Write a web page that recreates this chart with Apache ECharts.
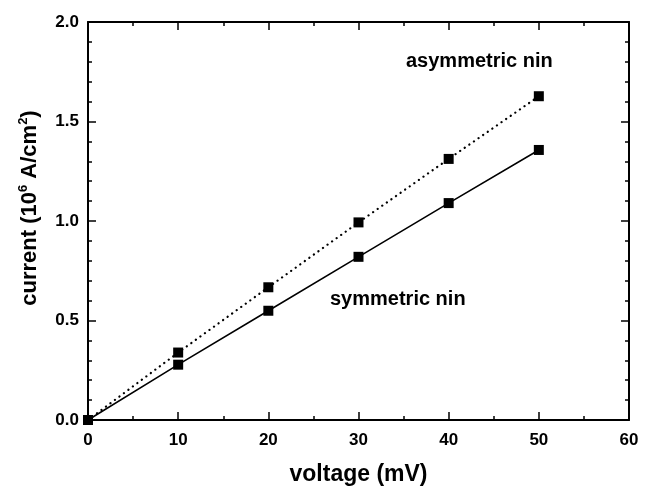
<!DOCTYPE html>
<html>
<head>
<meta charset="utf-8">
<script src="https://cdn.jsdelivr.net/npm/echarts@6/dist/echarts.min.js"></script>
<style>
  html, body { margin: 0; padding: 0; background: #fff; }
  #chart { width: 647px; height: 486px; }
</style>
</head>
<body>
<div id="chart"></div>
<script>
// voltage in mV, current in 10^6 A/cm^2
const voltage = [0, 10, 20, 30, 40, 50];
const symmetricNin = [0, 0.278, 0.549, 0.820, 1.090, 1.357];
const asymmetricNin = [0, 0.339, 0.667, 0.993, 1.312, 1.627];

const font = "'Liberation Sans', Arial, sans-serif";

function pairs(ys) {
  return voltage.map((v, i) => [v, ys[i]]);
}

const frameLine = { show: true, onZero: false, lineStyle: { color: "#000", width: 2 } };
const majorTick = { inside: true, length: 8, lineStyle: { width: 1.5, color: "#000" } };
const minor = n => ({ show: true, splitNumber: n, length: 4, lineStyle: { width: 1.5, color: "#000" } });

const chart = echarts.init(document.getElementById("chart"));
chart.setOption({
  animation: false,
  backgroundColor: "#fff",
  grid: { left: 88, right: 18, top: 22, bottom: 66, containLabel: false, outerBoundsMode: "none" },
  xAxis: [
    {
      type: "value",
      min: 0, max: 60, interval: 10,
      name: "voltage (mV)",
      nameLocation: "middle",
      nameGap: 43,
      nameTextStyle: { fontFamily: font, fontWeight: "bold", fontSize: 23, color: "#000" },
      axisLine: frameLine,
      axisTick: majorTick,
      minorTick: minor(2),
      splitLine: { show: false },
      axisLabel: { fontFamily: font, fontWeight: "bold", fontSize: 17, color: "#000", margin: 12 }
    },
    {
      type: "value",
      position: "top",
      min: 0, max: 60, interval: 10,
      axisLine: frameLine,
      axisTick: majorTick,
      minorTick: minor(2),
      splitLine: { show: false },
      axisLabel: { show: false }
    }
  ],
  yAxis: [
    {
      type: "value",
      min: 0, max: 2, interval: 0.5,
      name: "current (10{sup|6} A/cm{sup|2})",
      nameLocation: "middle",
      nameRotate: 90,
      nameGap: 46,
      nameTextStyle: {
        fontFamily: font, fontWeight: "bold", fontSize: 22, color: "#000",
        padding: [0, 0, 0, 26],
        rich: {
          sup: { fontFamily: font, fontWeight: "bold", fontSize: 13, color: "#000", verticalAlign: "top", padding: [0, 0, 12, 0] }
        }
      },
      axisLine: frameLine,
      axisTick: majorTick,
      minorTick: minor(5),
      splitLine: { show: false },
      axisLabel: {
        fontFamily: font, fontWeight: "bold", fontSize: 17, color: "#000", margin: 9,
        formatter: v => v.toFixed(1)
      }
    },
    {
      type: "value",
      position: "right",
      min: 0, max: 2, interval: 0.5,
      axisLine: frameLine,
      axisTick: majorTick,
      minorTick: minor(5),
      splitLine: { show: false },
      axisLabel: { show: false }
    }
  ],
  series: [
    {
      name: "symmetric nin",
      type: "line",
      data: pairs(symmetricNin),
      symbol: "rect",
      symbolSize: 10,
      itemStyle: { color: "#000" },
      lineStyle: { color: "#000", width: 1.6, type: "solid" }
    },
    {
      name: "asymmetric nin",
      type: "line",
      data: pairs(asymmetricNin),
      symbol: "rect",
      symbolSize: 10,
      itemStyle: { color: "#000" },
      lineStyle: { color: "#000", width: 2.2, type: [0.1, 5.5], cap: "round" }
    }
  ],
  graphic: [
    {
      type: "text",
      left: 406, top: 51,
      style: { text: "asymmetric nin", fontFamily: font, fontWeight: "bold", fontSize: 20, fill: "#000" }
    },
    {
      type: "text",
      left: 330, top: 289,
      style: { text: "symmetric nin", fontFamily: font, fontWeight: "bold", fontSize: 20, fill: "#000" }
    }
  ]
});
</script>
</body>
</html>
